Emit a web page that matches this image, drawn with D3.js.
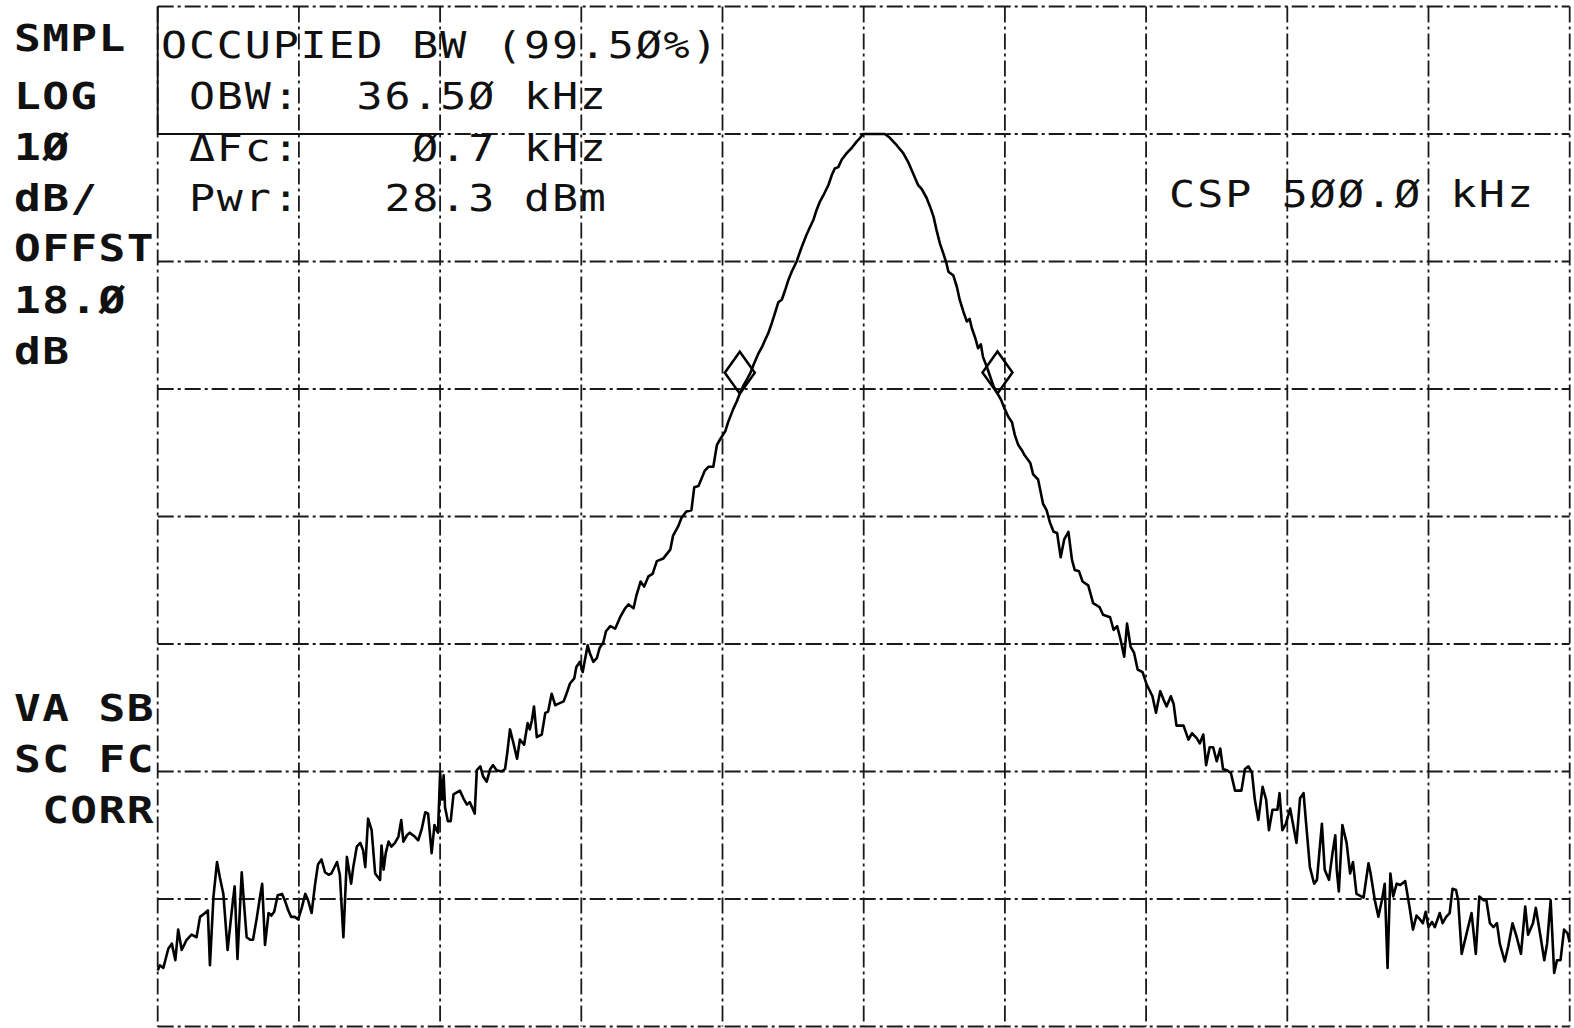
<!DOCTYPE html>
<html>
<head>
<meta charset="utf-8">
<script src="https://cdn.jsdelivr.net/npm/d3@7"></script>
<style>
  html, body { margin: 0; padding: 0; background: #fff; }
  svg { display: block; }
  text { font-family: "DejaVu Sans Mono", monospace; white-space: pre; fill: #111; }
</style>
</head>
<body>
<svg id="chart" width="1574" height="1028"></svg>
<script>
// Spectrum trace, [offset from centre in kHz, level in dBm], split into runs across the span
const leftSkirt = [
  [-100.0,-35.6],[-99.7,-35.2],[-99.2,-35.4],[-98.5,-33.9],[-98.0,-33.5],[-97.5,-34.8],[-97.1,-32.4],[-96.6,-34.0],
  [-95.9,-33.2],[-95.2,-32.8],[-94.5,-33.0],[-94.0,-31.4],[-93.3,-31.1],[-92.9,-30.9],[-92.6,-35.2],[-92.1,-29.8],
  [-91.6,-27.1],[-91.2,-28.3],[-90.7,-29.6],[-90.1,-34.0],[-89.5,-30.9],[-89.1,-29.0],[-88.7,-34.7],[-88.1,-27.9],
  [-87.7,-30.9],[-87.4,-33.0],[-86.9,-33.2],[-86.5,-33.2],[-86.0,-31.6],[-85.5,-29.8],[-85.2,-28.8],[-84.8,-33.6],
  [-84.3,-31.1],[-83.9,-31.3],[-83.5,-31.0],[-83.0,-29.7],[-82.4,-29.6],[-82.0,-30.1],[-81.5,-30.9],[-81.1,-31.4],
  [-80.6,-31.4],[-80.1,-31.6],[-79.6,-30.7],[-79.1,-29.6],[-78.7,-30.1],[-78.2,-31.1],[-77.7,-28.8],[-77.3,-27.3],
  [-76.8,-26.9],[-76.3,-27.9],[-75.8,-28.1],[-75.4,-28.0],[-74.6,-27.1],[-74.2,-28.1],[-73.7,-33.0],[-73.2,-26.7],
  [-72.6,-28.8],[-72.3,-27.5],[-71.8,-25.9],[-71.3,-25.6],[-70.9,-26.2],[-70.6,-27.5],[-70.2,-23.7],[-69.7,-24.6],
  [-69.2,-28.0],[-68.5,-28.5],[-68.3,-25.8],[-68.0,-27.7],[-67.7,-26.4],[-67.3,-25.5],[-66.9,-25.9],[-66.4,-25.6],
  [-65.9,-25.1],[-65.5,-23.8],[-65.2,-25.5],[-64.7,-25.0],[-64.3,-24.8],[-63.6,-25.1],[-63.1,-25.4],[-62.6,-24.5],
  [-62.1,-23.2],[-61.7,-23.3],[-61.2,-26.4],[-60.8,-24.2],[-60.5,-24.6],[-60.3,-24.8],[-60.0,-20.1],[-59.7,-22.2],
  [-59.5,-20.3],[-59.3,-22.8],[-58.9,-23.9],[-58.5,-23.9],[-58.1,-21.8]
];
const leftFlank = [
  [-57.2,-21.5],[-56.7,-22.1],[-56.2,-22.6],[-55.8,-22.4],[-55.4,-22.9],[-55.1,-23.3],[-54.8,-19.9],[-54.3,-19.6],
  [-53.9,-20.4],[-53.4,-20.8],[-52.9,-19.8],[-52.5,-19.5],[-52.0,-19.9],[-51.3,-20.0],[-50.8,-19.8],[-50.5,-18.6],
  [-50.1,-16.7],[-49.6,-17.8],[-49.1,-19.0],[-48.7,-17.5],[-48.1,-17.9],[-47.6,-16.2],[-47.3,-16.7],[-47.0,-16.0],
  [-46.7,-14.9],[-46.3,-17.3],[-45.6,-17.1],[-45.1,-15.4],[-44.7,-15.3],[-44.2,-13.9],[-43.7,-14.8],[-43.3,-14.7],
  [-42.5,-14.5],[-42.1,-13.9],[-41.6,-13.1],[-41.0,-12.7],[-40.7,-11.8],[-40.2,-11.4],[-39.8,-12.2],[-39.5,-11.3],
  [-39.1,-10.1],[-38.8,-10.7],[-38.3,-11.4],[-37.8,-11.1],[-37.4,-10.3],[-36.9,-9.9],[-36.5,-9.0],[-35.9,-8.6],
  [-35.2,-8.8],[-34.5,-7.9],[-33.8,-7.2],[-33.3,-6.9],[-32.6,-7.2],[-32.2,-6.2],[-31.6,-5.1],[-31.1,-5.5],
  [-30.5,-4.7],[-29.9,-4.5],[-29.3,-3.5],[-28.4,-3.3],[-27.4,-2.6],[-27.0,-1.5],[-26.3,-0.8],[-25.8,-0.1],
  [-25.1,0.4],[-24.4,0.5],[-24.0,2.3],[-23.4,2.4]
];
const mainLobe = [
  [-22.5,3.6],[-22.0,3.9],[-21.3,3.9],[-20.8,5.6],[-20.4,6.0],[-19.6,6.7],[-19.2,7.4],[-18.5,8.4],
  [-18.0,9.0],[-17.5,9.7],[-17.1,10.2],[-16.6,10.7],[-16.1,11.2],[-15.6,11.9],[-14.9,12.8],[-14.4,13.3],
  [-14.0,13.8],[-13.5,14.4],[-13.0,15.2],[-12.6,15.9],[-12.1,16.8],[-11.6,17.0],[-11.1,17.8],[-10.7,18.5],
  [-10.2,19.2],[-9.5,20.0],[-9.0,20.8],[-8.6,21.4],[-8.1,22.1],[-7.6,22.7],[-7.1,23.3],[-6.7,24.0],
  [-6.2,24.7],[-5.7,25.2],[-5.0,26.0],[-4.5,26.8],[-4.1,27.3],[-3.6,27.4],[-3.1,28.0],[-2.4,28.5],
  [-1.7,28.9],[-1.0,29.4],[-0.5,29.7],[-0.1,30.0],[3.0,30.0],[3.7,29.7],[4.7,29.1],[5.6,28.5],
  [6.3,27.8],[7.0,26.9],[7.7,26.0],[8.2,25.7],[8.9,25.0],[9.4,24.3],[9.9,23.5],[10.3,22.5],
  [10.8,21.4],[11.3,20.6],[11.7,19.9],[12.0,19.2],[12.7,18.9],[13.2,18.0],[13.6,17.0],[14.1,16.1],
  [14.6,15.3],[15.0,15.5],[15.3,14.8],[15.8,14.0],[16.2,13.2],[16.6,13.5],[16.9,12.5],[17.4,11.8],
  [17.9,11.0],[18.4,10.2],[19.1,9.5],[19.5,9.1],[20.0,8.4],[20.5,7.8],[21.0,7.4],[21.4,6.4],
  [21.9,5.6],[22.4,5.2],[22.8,4.8],[23.6,4.2],[24.0,3.3],[24.7,2.9]
];
const rightFlank = [
  [25.0,2.1],[25.4,1.0],[25.9,0.5],[26.4,-0.5],[26.9,-1.2],[27.4,-1.3],[27.9,-3.2],[28.4,-1.8],
  [29.0,-1.2],[29.5,-3.4],[29.9,-4.2],[30.5,-4.3],[31.0,-5.1],[31.8,-5.4],[32.5,-6.8],[33.4,-7.1],
  [33.9,-7.7],[34.9,-7.9],[35.4,-8.9],[35.9,-8.6],[36.4,-9.7],[36.9,-11.0],[37.3,-8.4],[37.8,-10.2],
  [38.3,-10.7],[38.8,-12.0],[39.5,-12.2],[40.1,-13.2],[40.9,-14.1],[41.4,-15.4],[42.0,-13.7],[42.5,-14.4],
  [42.9,-14.9],[43.5,-14.1],[43.9,-14.7],[44.3,-16.4],[45.3,-16.4],[46.0,-17.5],[46.5,-17.0],[47.2,-17.4],
  [47.6,-17.8],[48.1,-17.1],[48.5,-19.5],[49.0,-18.1],[49.5,-18.1],[50.0,-19.2],[50.5,-18.2],[50.9,-19.8],
  [51.4,-19.9],[52.0,-20.1],[52.6,-21.5],[53.5,-21.5],[54.0,-19.8],[54.5,-19.6],[55.0,-20.1],[55.4,-22.2],
  [55.9,-23.8],[56.5,-21.2],[57.0,-22.2],[57.4,-24.6]
];
const rightSkirt = [
  [57.9,-23.0],[58.6,-23.0],[58.9,-21.7],[59.3,-24.6],[59.8,-24.1],[60.4,-22.9],[60.8,-24.1],[61.3,-25.6],
  [61.8,-22.1],[62.3,-21.7],[62.7,-24.3],[63.2,-27.5],[63.8,-28.8],[64.2,-28.5],[64.9,-24.1],[65.3,-27.7],
  [65.9,-28.5],[66.4,-26.4],[66.8,-25.0],[67.0,-27.7],[67.3,-29.4],[67.8,-24.2],[68.4,-25.6],[68.9,-28.0],
  [69.3,-27.1],[69.8,-29.6],[70.8,-29.9],[71.5,-27.2],[71.8,-28.0],[72.4,-30.1],[72.9,-31.4],[73.4,-30.1],
  [73.8,-28.8],[74.2,-35.4],[74.6,-28.0],[75.0,-29.8],[75.5,-28.8],[76.0,-28.9],[76.7,-28.6],[77.3,-30.6],
  [77.8,-32.4],[78.3,-31.3],[78.8,-31.6],[79.2,-31.9],[79.6,-31.0],[80.0,-32.2],[80.5,-31.8],[80.9,-32.2],
  [81.6,-31.1],[82.0,-31.9],[82.5,-31.4],[83.0,-31.1],[83.4,-29.2],[83.9,-29.3],[84.2,-30.1],[84.7,-34.3],
  [85.4,-32.7],[86.1,-31.1],[86.7,-34.3],[87.2,-29.8],[87.8,-30.1],[88.2,-30.1],[88.7,-31.9],[89.2,-32.2],
  [89.7,-31.9],[90.1,-33.5],[90.8,-34.9],[91.3,-33.7],[91.9,-31.9],[92.5,-33.0],[93.1,-34.3],[93.7,-30.6],
  [94.1,-32.8],[94.8,-31.9],[95.2,-30.7],[95.8,-32.7],[96.4,-34.8],[96.8,-33.5],[97.3,-30.1],[97.8,-35.8],
  [98.2,-34.8],[98.7,-34.8],[99.2,-32.4],[99.7,-32.7],[100.0,-33.4]
];

// Graticule: 20 kHz/div across the span, 10 dB/div from the reference level down
const freqTicks = d3.range(-100, 101, 20);
const levelTicks = d3.range(-40, 41, 10);

// Occupied-bandwidth edge markers (kHz from centre)
const markerFreqs = [-17.55, 18.95];

// Annotation text
const statusLabels = ["SMPL", "LOG", "1Ø", "dB/", "OFFST", "18.Ø", "dB"];
const couplingLabels = ["VA SB", "SC FC", " CORR"];
const obwLines = ["OCCUPIED BW (99.5Ø%)", " OBW:  36.5Ø kHz", " ΔFc:    Ø.7 kHz", " Pwr:   28.3 dBm"];
const spanLabel = "CSP 5ØØ.Ø kHz";

const svg = d3.select("#chart");
const x = d3.scaleLinear().domain([-100, 100]).range([157.7, 1569.7]);
const y = d3.scaleLinear().domain([-40, 40]).range([1026.5, 6.5]);

// graticule
const grid = svg.append("g")
  .attr("stroke", "#1a1a1a")
  .attr("stroke-width", 1.8)
  .attr("stroke-dasharray", "16,4,3,4")
  .attr("fill", "none");
grid.selectAll("line.v").data(freqTicks).join("line")
  .attr("class", "v")
  .attr("x1", d => x(d)).attr("x2", d => x(d))
  .attr("y1", y(40)).attr("y2", y(-40));
grid.selectAll("line.h").data(levelTicks).join("line")
  .attr("class", "h")
  .attr("x1", x(-100)).attr("x2", x(100))
  .attr("y1", d => y(d)).attr("y2", d => y(d));

// readout box edge
svg.append("path")
  .attr("d", `M${x(-100)},${y(40)}V${y(30)}H${x(-60)}`)
  .attr("fill", "none").attr("stroke", "#111").attr("stroke-width", 1.9);

// trace
const trace = [].concat(leftSkirt, leftFlank, mainLobe, rightFlank, rightSkirt);
const line = d3.line().x(d => x(d[0])).y(d => y(d[1]));
svg.append("path")
  .datum(trace)
  .attr("d", line)
  .attr("fill", "none")
  .attr("stroke", "#000")
  .attr("stroke-width", 2.6)
  .attr("stroke-linejoin", "round");

// markers sit with their lower tip on the trace
const bis = d3.bisector(d => d[0]).left;
function levelAt(f) {
  const i = Math.max(1, Math.min(trace.length - 1, bis(trace, f)));
  const a = trace[i - 1], b = trace[i];
  const t = (f - a[0]) / (b[0] - a[0]);
  return a[1] + t * (b[1] - a[1]);
}
svg.selectAll("path.mk").data(markerFreqs).join("path")
  .attr("class", "mk")
  .attr("d", f => {
    const px = x(f), py = y(levelAt(f));
    return `M${px},${py}L${px + 15},${py - 21}L${px},${py - 42}L${px - 15},${py - 21}Z`;
  })
  .attr("fill", "none").attr("stroke", "#000").attr("stroke-width", 2.5);

// text on the instrument's 28 px character grid, glyphs widened to fill the cell
const CELL_SCALE = 1.17;
function gridText(sel, size, weight, spacing) {
  return sel
    .attr("font-size", size)
    .attr("font-weight", weight)
    .style("letter-spacing", spacing + "px");
}

// left-hand status column
const statusY = [51, 109, 160, 211, 261, 313, 364];
gridText(svg.selectAll("text.st").data(statusLabels).join("text")
  .attr("class", "st")
  .attr("transform", (d, i) => `translate(14,${statusY[i]}) scale(${CELL_SCALE},1)`)
  .text(d => d), 38, "bold", 1.2);
const couplingY = [721, 772, 823];
gridText(svg.selectAll("text.cp").data(couplingLabels).join("text")
  .attr("class", "cp")
  .attr("transform", (d, i) => `translate(14,${couplingY[i]}) scale(${CELL_SCALE},1)`)
  .text(d => d), 38, "bold", 1.2);

// occupied bandwidth readout
const obwY = [58, 109, 161, 211];
gridText(svg.selectAll("text.ob").data(obwLines).join("text")
  .attr("class", "ob")
  .attr("transform", (d, i) => `translate(161,${obwY[i]}) scale(${CELL_SCALE},1)`)
  .text(d => d), 37, "normal", 1.6);

gridText(svg.append("text")
  .attr("transform", `translate(1169,207) scale(${CELL_SCALE},1)`)
  .text(spanLabel), 37, "normal", 1.8);
</script>
</body>
</html>
